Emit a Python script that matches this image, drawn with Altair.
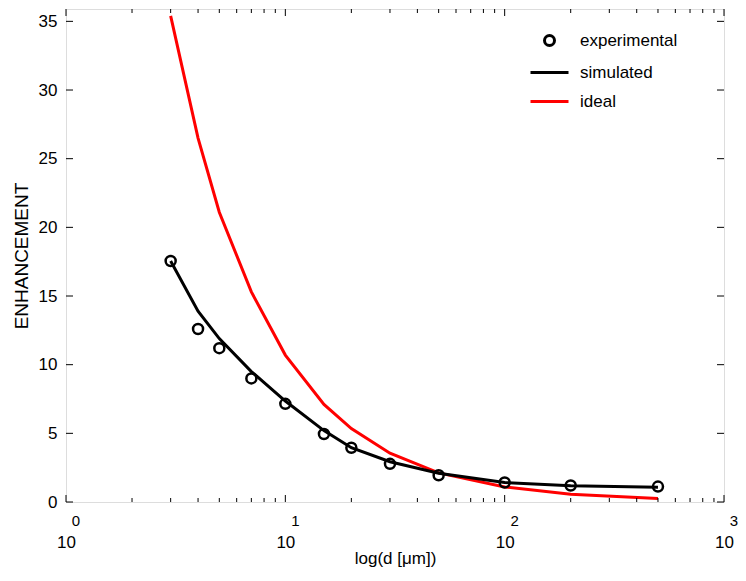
import altair as alt
import pandas as pd

# ---- data ----
d_values = [3, 4, 5, 7, 10, 15, 20, 30, 50, 100, 200, 500]
experimental = [17.55, 12.6, 11.2, 9.0, 7.15, 4.95, 3.95, 2.78, 1.95, 1.42, 1.2, 1.12]
simulated = [17.55, 13.9, 11.9, 9.5, 7.35, 5.2, 3.95, 2.93, 2.09, 1.42, 1.19, 1.08]
ideal = [35.4, 26.5, 21.1, 15.3, 10.7, 7.1, 5.35, 3.55, 2.12, 1.1, 0.57, 0.25]

series_names = ["experimental", "simulated", "ideal"]
series_colors = ["black", "black", "red"]

x_major = [1, 10, 100, 1000]
x_exponents = ["0", "1", "2", "3"]
x_minor = [m * 10 ** e for e in range(3) for m in range(2, 10)]
y_ticks = [0, 5, 10, 15, 20, 25, 30, 35]

W, H = 658, 493
FONT = "Liberation Sans"

pts = pd.DataFrame({"d": d_values, "E": experimental, "series": "experimental"})
lines = pd.concat([
    pd.DataFrame({"d": d_values, "E": ideal, "series": "ideal"}),
    pd.DataFrame({"d": d_values, "E": simulated, "series": "simulated"}),
])

xscale = alt.Scale(type="log", domain=[1, 1000], nice=False)
yscale = alt.Scale(domain=[0, 35.9], nice=False, zero=False)
cscale = alt.Scale(domain=series_names, range=series_colors)
sscale = alt.Scale(domain=series_names, range=["circle", "M-3.8,0H3.8", "M-3.8,0H3.8"])

legend = alt.Legend(
    title=None, orient="none", legendX=475, legendY=23,
    labelFontSize=17, labelFont=FONT, labelColor="black",
    symbolSize=100, symbolStrokeWidth=3, symbolFillColor="transparent",
    labelOffset=22, rowPadding=11, padding=0,
)

x_axis = alt.Axis(
    values=x_major, labelExpr="'10'", ticks=False, grid=False, domain=False,
    labelFontSize=17, labelFont=FONT, labelColor="black", labelPadding=32,
    labelFlush=False,
    title="log(d [\u03bcm])", titleFontSize=17, titleFont=FONT,
    titleFontWeight="normal", titleColor="black", titlePadding=0,
)
y_axis = alt.Axis(
    values=y_ticks, ticks=False, grid=False, domain=False,
    labelFontSize=17, labelFont=FONT, labelColor="black", labelPadding=9,
    title="ENHANCEMENT", titleFontSize=19, titleFont=FONT,
    titleFontWeight="normal", titleColor="black", titlePadding=7,
)

line_layer = alt.Chart(lines).mark_line(strokeWidth=3).encode(
    x=alt.X("d:Q", scale=xscale, axis=x_axis),
    y=alt.Y("E:Q", scale=yscale, axis=y_axis),
    color=alt.Color("series:N", scale=cscale, legend=legend),
    detail="series:N",
)

point_layer = alt.Chart(pts).mark_point(filled=False, size=100, strokeWidth=2.5, opacity=1).encode(
    x=alt.X("d:Q", scale=xscale),
    y=alt.Y("E:Q", scale=yscale),
    color=alt.Color("series:N", scale=cscale, legend=legend),
    shape=alt.Shape("series:N", scale=sscale, legend=legend),
)

major_df = pd.DataFrame({"d": x_major, "exp": x_exponents})
minor_df = pd.DataFrame({"d": x_minor})
yt_df = pd.DataFrame({"E": y_ticks})

def xticks(df, length):
    bottom = alt.Chart(df).mark_rule(color="black", strokeWidth=1).encode(
        x=alt.X("d:Q", scale=xscale), y=alt.value(H), y2=alt.value(H - length))
    top = alt.Chart(df).mark_rule(color="black", strokeWidth=1).encode(
        x=alt.X("d:Q", scale=xscale), y=alt.value(0), y2=alt.value(length))
    return bottom + top

yt_left = alt.Chart(yt_df).mark_rule(color="black", strokeWidth=1).encode(
    y=alt.Y("E:Q", scale=yscale), x=alt.value(0), x2=alt.value(7))
yt_right = alt.Chart(yt_df).mark_rule(color="black", strokeWidth=1).encode(
    y=alt.Y("E:Q", scale=yscale), x=alt.value(W), x2=alt.value(W - 7))

exp_text = alt.Chart(major_df).mark_text(
    fontSize=15, font=FONT, color="black", dx=10, baseline="middle", align="center"
).encode(x=alt.X("d:Q", scale=xscale), y=alt.value(H + 19), text="exp:N")

chart = alt.layer(
    line_layer, point_layer,
    xticks(major_df, 7), xticks(minor_df, 4), yt_left, yt_right, exp_text,
).properties(
    width=W, height=H,
    padding={"left": 58, "top": 1, "right": 14, "bottom": 66},
    autosize="none",
).configure_view(stroke="black", strokeWidth=1.2).configure(background="white")

chart.save("out.html", embed_options={"renderer": "svg", "actions": False})
